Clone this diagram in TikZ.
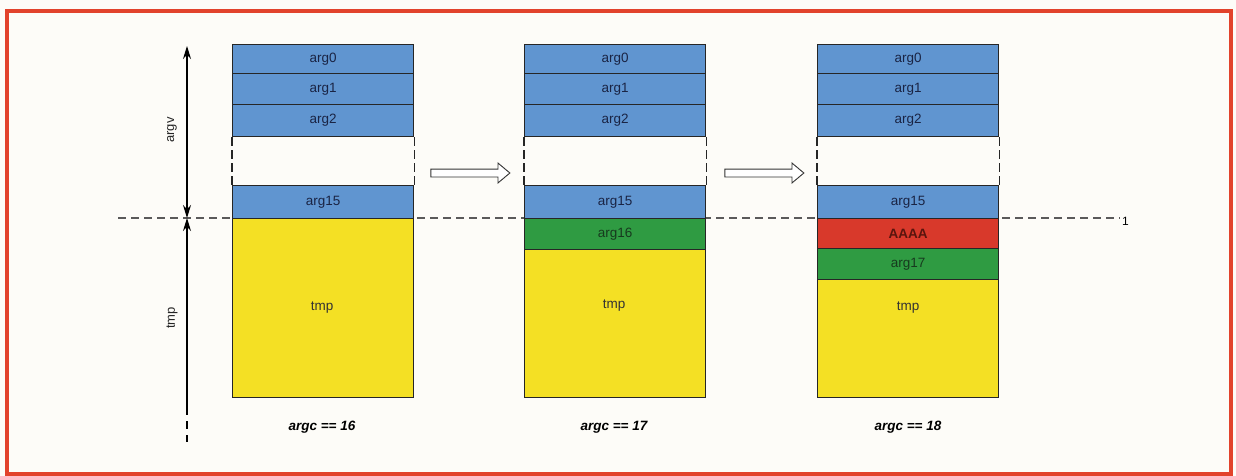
\documentclass[tikz,border=0pt]{standalone}
\usepackage{fontspec}
\setmainfont{Liberation Sans}
\usetikzlibrary{shapes.arrows,arrows.meta}
\definecolor{argblue}{HTML}{6095D0}
\definecolor{tmpyellow}{HTML}{F4E024}
\definecolor{arggreen}{HTML}{2F9B42}
\definecolor{aaaared}{HTML}{D8392B}
\definecolor{framered}{HTML}{E2432C}
\definecolor{bgcol}{HTML}{FDFCF8}
\definecolor{navy}{HTML}{1A2444}
\definecolor{dkgreen}{HTML}{173A1E}
\definecolor{dkred}{HTML}{5A150E}
\definecolor{dashgray}{HTML}{5A5A5A}
\tikzset{
  cell/.style={draw=black!85, line width=1.2pt, minimum width=181pt, inner sep=0pt,
    anchor=north west, font=\fontsize{13.5}{15}\selectfont, text=navy},
  bluecell/.style={cell, fill=argblue},
  celltext/.style={font=\fontsize{13.5}{15}\selectfont, text=black!80, inner sep=0pt},
  hollow/.style={single arrow, draw=black!80, fill=white, line width=0.9pt,
    minimum height=79pt, minimum width=19pt, inner sep=3.5pt,
    single arrow head extend=6pt, single arrow tip angle=80},
  caption/.style={font=\fontsize{13.5}{15}\selectfont\bfseries\itshape},
  sidelabel/.style={rotate=90, font=\fontsize{13}{15}\selectfont, text=black!85},
  gapedge/.style={draw=black!85, line width=1.1pt, dash pattern=on 9pt off 4pt},
  level/.style={draw=dashgray, line width=1.3pt, dash pattern=on 8pt off 5pt},
  sidearrow/.style={line width=1.2pt, >={Stealth[length=13pt,width=8pt]}}
}
\begin{document}
\begin{tikzpicture}[x=1pt,y=-1pt]
\useasboundingbox (0,0) rectangle (1236,476);
\fill[bgcol] (0,0) rectangle (1236,476);
\draw[framered, line width=4.5pt] (7,11) rectangle (1231,474);

% level line
\coordinate (lvlL) at (118,218);
\coordinate (lvlR) at (1120,218);
\draw[level] (lvlL) -- (lvlR);
\node[font=\fontsize{12}{14}\selectfont, anchor=west, inner sep=1pt] (one) at (1121,221) {1};

% column 1
\node[bluecell, minimum height=29pt] (a0) at (232,44) {arg0};
\node[bluecell, minimum height=31pt] (a1) at (232,73) {arg1};
\node[bluecell, minimum height=32pt] (a2) at (232,104) {arg2};
\node[bluecell, minimum height=33pt] (a15) at (232,185) {arg15};
\node[cell, fill=tmpyellow, minimum height=179pt] (t1) at (232,218) {};
\node[celltext] (t1l) at (322,308) {tmp};
\draw[gapedge] (a2.south west) -- (a15.north west);
\draw[gapedge] (a2.south east) -- (a15.north east);
\node[caption] (c1) at (322,427) {argc == 16};

% column 2
\node[bluecell, minimum height=29pt] (b0) at (524,44) {arg0};
\node[bluecell, minimum height=31pt] (b1) at (524,73) {arg1};
\node[bluecell, minimum height=32pt] (b2) at (524,104) {arg2};
\node[bluecell, minimum height=33pt] (b15) at (524,185) {arg15};
\node[cell, fill=arggreen, minimum height=31pt, text=dkgreen] (b16) at (524,218) {arg16};
\node[cell, fill=tmpyellow, minimum height=148pt] (t2) at (524,249) {};
\node[celltext] (t2l) at (614,306) {tmp};
\draw[gapedge] (b2.south west) -- (b15.north west);
\draw[gapedge] (b2.south east) -- (b15.north east);
\node[caption] (c2) at (614,427) {argc == 17};

% column 3
\node[bluecell, minimum height=29pt] (d0) at (817,44) {arg0};
\node[bluecell, minimum height=31pt] (d1) at (817,73) {arg1};
\node[bluecell, minimum height=32pt] (d2) at (817,104) {arg2};
\node[bluecell, minimum height=33pt] (d15) at (817,185) {arg15};
\node[cell, fill=aaaared, minimum height=30pt, text=dkred, font=\fontsize{13.5}{15}\selectfont\bfseries] (daa) at (817,218) {AAAA};
\node[cell, fill=arggreen, minimum height=31pt, text=dkgreen] (d17) at (817,248) {arg17};
\node[cell, fill=tmpyellow, minimum height=118pt] (t3) at (817,279) {};
\node[celltext] (t3l) at (908,308) {tmp};
\draw[gapedge] (d2.south west) -- (d15.north west);
\draw[gapedge] (d2.south east) -- (d15.north east);
\node[caption] (c3) at (908,427) {argc == 18};

% transition arrows
\node[hollow] (h1) at (468,173) {};
\node[hollow] (h2) at (762,173) {};

% side arrows
\coordinate (argvTop) at (187,46);
\coordinate (mid) at (187,218);
\coordinate (tmpSolid) at (187,407);
\coordinate (tmpEnd) at (187,442);
\draw[sidearrow, <->] (argvTop) -- (mid);
\draw[sidearrow, <-] (mid) -- (tmpSolid);
\draw[line width=1.2pt, dash pattern=on 8pt off 6pt] (tmpSolid) -- (tmpEnd);
\node[sidelabel] (lv) at (172,130) {argv};
\node[sidelabel] (lt) at (172,318) {tmp};
\end{tikzpicture}
\end{document}
